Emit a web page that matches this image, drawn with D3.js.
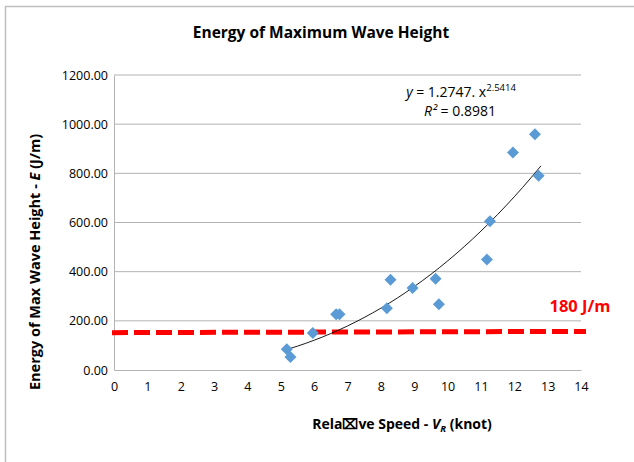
<!DOCTYPE html>
<html>
<head>
<meta charset="utf-8">
<script src="https://cdn.jsdelivr.net/npm/d3@7"></script>
<style>
body { margin:0; background:#fff; }
text { font-family: "Open Sans", sans-serif; }
</style>
</head>
<body>
<div class="container"></div>
<script>
// measured points (knot, J/m)
var speed  = [5.18, 5.29, 5.96, 6.66, 6.76, 8.18, 8.29, 8.95, 9.64, 9.74, 11.18, 11.27, 11.96, 12.62, 12.73];
var energy = [84, 53, 150, 227, 227, 251, 367, 334, 371, 267, 449, 605, 885, 959, 790];

var xTicks = [0,1,2,3,4,5,6,7,8,9,10,11,12,13,14];
var yTicks = [0,200,400,600,800,1000,1200];

// power trendline from the chart: y = a * x^b
var trendA = 1.2747, trendB = 2.5414;
var trendX = [5.18, 5.5, 6, 6.5, 7, 7.5, 8, 8.5, 9, 9.5, 10, 10.5, 11, 11.5, 12, 12.5, 12.8];

// 180 J/m reference line (as drawn)
var limitX = [-0.06, 14.15];
var limitY = [152, 157];

var W = 634, H = 462;
var svg = d3.select(".container").append("svg")
	.attr("width", W).attr("height", H);

// chart border (only top/left in view)
svg.append("path")
	.attr("d", "M5.5," + H + "V6.5H" + W)
	.style("fill", "none").style("stroke", "#bfbfbf").style("stroke-width", 1.5);

var x = d3.scaleLinear().domain([0,14]).range([114, 581]);
var y = d3.scaleLinear().domain([0,1200]).range([370, 75]);

// gridlines
svg.append("g").selectAll("line").data(yTicks.slice(1)).enter().append("line")
	.attr("x1", x(0)).attr("x2", x(14))
	.attr("y1", function(d){ return y(d); }).attr("y2", function(d){ return y(d); })
	.style("stroke", "#b3b3b3").style("stroke-width", 1);

// axes
var yAxis = d3.axisLeft(y).tickValues(yTicks).tickSize(0).tickPadding(6)
	.tickFormat(d3.format(".2f"));
var gy = svg.append("g").attr("transform", "translate(" + x(0) + ",0)").call(yAxis);
var xAxis = d3.axisBottom(x).tickValues(xTicks).tickSize(0).tickPadding(12);
var gx = svg.append("g").attr("transform", "translate(0," + y(0) + ")").call(xAxis);
[gx, gy].forEach(function(g){
	g.select(".domain").style("stroke", "#b3b3b3").style("stroke-width", 1);
	g.selectAll("text").style("font-size", "12.5px").style("fill", "#000")
		.style("font-family", "'Open Sans', sans-serif");
});

// red limit line
svg.append("line")
	.attr("x1", x(limitX[0])).attr("x2", x(limitX[1]))
	.attr("y1", y(limitY[0])).attr("y2", y(limitY[1]))
	.style("stroke", "#ff0000").style("stroke-width", 5)
	.style("stroke-dasharray", "16,6");

// trendline
var line = d3.line()
	.x(function(d){ return x(d); })
	.y(function(d){ return y(trendA * Math.pow(d, trendB)); })
	.curve(d3.curveMonotoneX);
svg.append("path").datum(trendX)
	.attr("d", line)
	.style("fill", "none").style("stroke", "#000").style("stroke-width", 0.9);

// points (diamonds)
svg.append("g").selectAll("path").data(speed).enter().append("path")
	.attr("d", d3.symbol().type(d3.symbolSquare).size(72))
	.attr("transform", function(d, i){ return "translate(" + x(d) + "," + y(energy[i]) + ") rotate(45)"; })
	.style("fill", "#5b9bd5");

// title
svg.append("text").attr("x", 321).attr("y", 38).attr("text-anchor", "middle")
	.style("font-size", "15.5px").style("font-weight", "bold").text("Energy of Maximum Wave Height");

// y label
var yl = svg.append("text").attr("transform", "translate(40,262) rotate(-90)")
	.attr("text-anchor", "middle").style("font-size", "14.5px").style("font-weight", "bold");
yl.append("tspan").text("Energy of Max Wave Height - ");
yl.append("tspan").style("font-style", "italic").text("E");
yl.append("tspan").text(" (J/m)");

// x label
var xl = svg.append("text").attr("x", 402).attr("y", 429)
	.attr("text-anchor", "middle").style("font-size", "14px").style("font-weight", "bold");
xl.append("tspan").text("Rela\u2327ve Speed - ");
xl.append("tspan").style("font-style", "italic").text("V");
xl.append("tspan").style("font-style", "italic").style("font-size", "9.5px").attr("dy", 3).text("R");
xl.append("tspan").attr("dy", -3).text(" (knot)");

// equation
var eq = svg.append("text").attr("x", 461).attr("y", 97).attr("text-anchor", "middle")
	.style("font-size", "14px");
eq.append("tspan").style("font-style", "italic").text("y");
eq.append("tspan").text(" = 1.2747. x");
eq.append("tspan").style("font-size", "9.5px").attr("dy", -6).text("2.5414");
var r2 = svg.append("text").attr("x", 460).attr("y", 116).attr("text-anchor", "middle")
	.style("font-size", "14px");
r2.append("tspan").style("font-style", "italic").text("R\u00b2");
r2.append("tspan").text(" = 0.8981");

// limit label
svg.append("text").attr("x", 580).attr("y", 312).attr("text-anchor", "middle")
	.style("font-size", "16.5px").style("font-weight", "bold").style("fill", "#ff0000")
	.text("180 J/m");
</script>
</body>
</html>
